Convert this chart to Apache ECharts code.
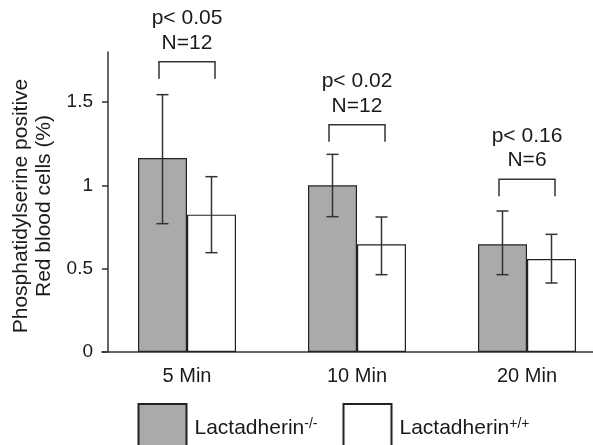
<!DOCTYPE html>
<html><head><meta charset="utf-8">
<script src="https://cdn.jsdelivr.net/npm/echarts@6/dist/echarts.min.js"></script>
<style>html,body{margin:0;padding:0;background:#fff}#c{width:593px;height:445px}</style>
</head><body><div id="c"></div>
<script>
const categories = ['5 Min', '10 Min', '20 Min'];
const knockoutMean = [1.164, 1.0, 0.646];
const knockoutLow = [0.770, 0.812, 0.464];
const knockoutHigh = [1.544, 1.186, 0.846];
const wildMean = [0.824, 0.646, 0.558];
const wildLow = [0.596, 0.464, 0.414];
const wildHigh = [1.052, 0.810, 0.706];
const pLabels = ['p< 0.05', 'p< 0.02', 'p< 0.16'];
const nLabels = ['N=12', 'N=12', 'N=6'];
const bracketTop = [1.742, 1.364, 1.036];
const yTicks = [0, 0.5, 1, 1.5];
const seriesNames = ['Lactadherin-/-', 'Lactadherin+/+'];

const FONT = 'Liberation Sans, Arial, Helvetica, sans-serif';
const INK = '#1a1a1a';
const LINE = '#333';

function errorSeries(low, high, offset) {
  return {
    type: 'custom',
    z: 5,
    silent: true,
    data: categories.map((c, i) => [i, low[i], high[i]]),
    encode: { x: 0, y: [1, 2] },
    renderItem: function (params, api) {
      const i = api.value(0);
      const lo = api.coord([i, api.value(1)]);
      const hi = api.coord([i, api.value(2)]);
      const x = lo[0] + offset;
      const st = { stroke: LINE, lineWidth: 1.5 };
      return {
        type: 'group',
        children: [
          { type: 'line', shape: { x1: x, y1: lo[1], x2: x, y2: hi[1] }, style: st },
          { type: 'line', shape: { x1: x - 6, y1: hi[1], x2: x + 6, y2: hi[1] }, style: st },
          { type: 'line', shape: { x1: x - 6, y1: lo[1], x2: x + 6, y2: lo[1] }, style: st }
        ]
      };
    }
  };
}

const chart = echarts.init(document.getElementById('c'), null, { renderer: 'canvas' });
chart.setOption({
  animation: false,
  backgroundColor: '#fff',
  textStyle: { fontFamily: FONT },
  grid: { left: 102, right: -19, top: 52, bottom: 93, containLabel: false, outerBoundsMode: 'none' },
  legend: seriesNames.map((n, k) => ({
    data: [n],
    left: k === 0 ? 137.5 : 342.5,
    top: 403,
    padding: 0,
    icon: 'rect',
    itemWidth: 48,
    itemHeight: 48,
    selectedMode: false,
    formatter: name => '{a|Lactadherin}{s|' + name.slice(11) + '}',
    textStyle: {
      padding: [0, 0, 0, 3],
      rich: {
        a: { fontSize: 21, lineHeight: 22, color: INK, fontFamily: FONT },
        s: { fontSize: 14, lineHeight: 14, verticalAlign: 'top', color: INK, fontFamily: FONT }
      }
    }
  })),
  xAxis: {
    type: 'category',
    data: categories,
    axisLine: { lineStyle: { color: LINE, width: 1.5 } },
    axisTick: { length: 5, lineStyle: { color: LINE, width: 1.5 } },
    axisLabel: { fontSize: 20, color: INK, margin: 14 }
  },
  yAxis: {
    type: 'value',
    min: 0,
    max: 1.8,
    offset: -6,
    axisLine: { show: true, lineStyle: { color: LINE, width: 1.5 } },
    axisTick: { show: true, length: 6, customValues: yTicks, lineStyle: { color: LINE, width: 1.5 } },
    axisLabel: { customValues: yTicks, fontSize: 19, color: INK, margin: 15 },
    splitLine: { show: false },
    name: 'Phosphatidylserine positive\nRed blood cells (%)',
    nameLocation: 'middle',
    nameRotate: 90,
    nameGap: 52,
    nameTextStyle: { fontSize: 21, lineHeight: 23, color: INK, padding: [0, 8, 0, 0] }
  },
  series: [
    {
      name: seriesNames[0], type: 'bar', data: knockoutMean, barWidth: 49, barGap: '0%',
      itemStyle: { color: '#a9aaa9', borderColor: '#222', borderWidth: 1.2 }
    },
    {
      name: seriesNames[1], type: 'bar', data: wildMean, barWidth: 49, barGap: '0%',
      itemStyle: { color: '#ffffff', borderColor: '#222', borderWidth: 1.2 }
    },
    errorSeries(knockoutLow, knockoutHigh, -24.5),
    errorSeries(wildLow, wildHigh, 24.5),
    {
      type: 'custom',
      z: 6,
      silent: true,
      data: categories.map((c, i) => [i, bracketTop[i]]),
      encode: { x: 0, y: 1 },
      renderItem: function (params, api) {
        const i = api.value(0);
        const p = api.coord([i, api.value(1)]);
        const hw = 28, leg = 17;
        return {
          type: 'group',
          children: [
            { type: 'polyline', shape: { points: [[p[0] - hw, p[1] + leg], [p[0] - hw, p[1]], [p[0] + hw, p[1]], [p[0] + hw, p[1] + leg]] },
              style: { stroke: LINE, lineWidth: 1.5, fill: null } },
            { type: 'text', style: { text: pLabels[i], x: p[0], y: p[1] - 43.5, align: 'center', verticalAlign: 'middle', fontSize: 21, fontFamily: FONT, fill: INK } },
            { type: 'text', style: { text: nLabels[i], x: p[0], y: p[1] - 18.7, align: 'center', verticalAlign: 'middle', fontSize: 21, fontFamily: FONT, fill: INK } }
          ]
        };
      }
    }
  ]
});
</script>
</body></html>
